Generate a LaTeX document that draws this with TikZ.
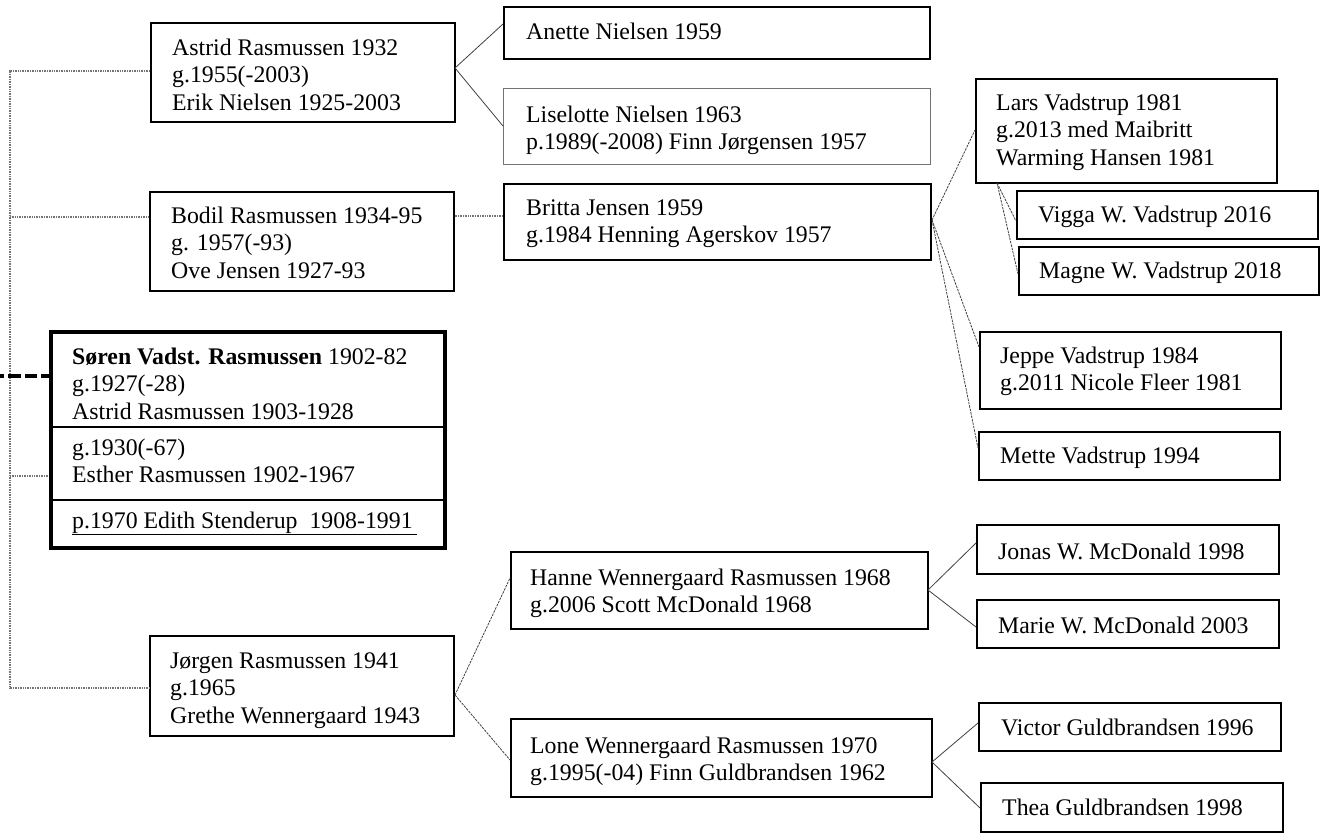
\documentclass[tikz,border=0pt]{standalone}
\usepackage{fontspec}
\setmainfont{Liberation Serif}
\newcommand\famnode[6]{\node[#1, minimum width={#5-#3}, minimum height={#6-#4}] (#2) at (#3,#4) {};}
\begin{document}
\begin{tikzpicture}[x=1pt,y=-1pt,
  every node/.style={font=\fontsize{23.8}{27.5}\selectfont},
  box/.style={draw=black, line width=1.5pt, inner sep=0pt, anchor=north west},
  graybox/.style={box, draw=black!55, line width=1.1pt},
  bigbox/.style={box, line width=3.5pt},
  divider/.style={line width=2.5pt},
  txt/.style={inner sep=0pt, anchor=base west},
  trunk/.style={draw=black!55, line width=1.3pt, dash pattern=on 1pt off 0.7pt},
  link/.style={draw=black!75, line width=0.8pt},
  dlink/.style={link, dash pattern=on 2.5pt off 1pt},
  lead/.style={line width=3.5pt, dash pattern=on 12.5pt off 4pt, dash phase=4.5pt}
]
\useasboundingbox (0,0) rectangle (1322,835);

% ---------- boxes ----------
\famnode{box}{A}{150}{22}{454}{121}
\famnode{box}{B}{149}{191}{453}{290}
\famnode{bigbox}{S}{49}{330}{443}{546}
\famnode{box}{J}{149}{635}{453}{735}
\famnode{box}{An}{503}{6}{929}{58}
\famnode{graybox}{L}{503}{88}{930}{164}
\famnode{box}{Br}{503}{183}{930}{259}
\famnode{box}{La}{975}{78}{1276}{182}
\famnode{box}{Vi}{1016}{190}{1317}{238}
\famnode{box}{Ma}{1018}{246}{1318}{294}
\famnode{box}{Je}{979}{331}{1280}{408}
\famnode{box}{Me}{978}{431}{1279}{479}
\famnode{box}{Ha}{510}{551}{927}{628}
\famnode{box}{Lo}{510}{718}{931}{796}
\famnode{box}{Jo}{976}{524}{1278}{573}
\famnode{box}{Mr}{976}{599}{1278}{647}
\famnode{box}{Vc}{978}{702}{1280}{750}
\famnode{box}{Th}{980}{782}{1282}{831}

% Søren box dividers
\draw[divider] (S.west |- 0,427) -- (S.east |- 0,427);
\draw[divider] (S.west |- 0,500) -- (S.east |- 0,500);

% ---------- texts ----------
\node[txt] (At) at (172,55) {\parbox[t]{400pt}{Astrid Rasmussen 1932\\g.1955(-2003)\\Erik Nielsen 1925-2003}};
\node[txt] (Bt) at (171,223) {\parbox[t]{400pt}{Bodil Rasmussen 1934-95\\g. 1957(-93)\\Ove Jensen 1927-93}};
\node[txt] (St) at (72,364) {\parbox[t]{400pt}{\textbf{Søren Vadst. Rasmussen} 1902-82\\g.1927(-28)\\Astrid Rasmussen 1903-1928}};
\node[txt] (St2) at (72,455) {\parbox[t]{400pt}{g.1930(-67)\\Esther Rasmussen 1902-1967}};
\node[txt] (St3) at (72,528) {\underline{p.1970 Edith Stenderup\ \ 1908-1991\,}};
\node[txt] (Jt) at (170,668) {\parbox[t]{400pt}{Jørgen Rasmussen 1941\\g.1965\\Grethe Wennergaard 1943}};
\node[txt] (Ant) at (526,39) {Anette Nielsen 1959};
\node[txt] (Lt) at (526,122) {\parbox[t]{450pt}{Liselotte Nielsen 1963\\p.1989(-2008) Finn Jørgensen 1957}};
\node[txt] (Brt) at (526,215) {\parbox[t]{450pt}{Britta Jensen 1959\\g.1984 Henning Agerskov 1957}};
\node[txt] (Lat) at (996,110) {\parbox[t]{400pt}{Lars Vadstrup 1981\\g.2013 med Maibritt\\Warming Hansen 1981}};
\node[txt] (Vit) at (1038,222) {Vigga W. Vadstrup 2016};
\node[txt] (Mat) at (1039,278) {Magne W. Vadstrup 2018};
\node[txt] (Jet) at (1000,363) {\parbox[t]{400pt}{Jeppe Vadstrup 1984\\g.2011 Nicole Fleer 1981}};
\node[txt] (Met) at (1000,463) {Mette Vadstrup 1994};
\node[txt] (Hat) at (530,585) {\parbox[t]{450pt}{Hanne Wennergaard Rasmussen 1968\\g.2006 Scott McDonald 1968}};
\node[txt] (Lot) at (530,753) {\parbox[t]{450pt}{Lone Wennergaard Rasmussen 1970\\g.1995(-04) Finn Guldbrandsen 1962}};
\node[txt] (Jot) at (998,559) {Jonas W. McDonald 1998};
\node[txt] (Mrt) at (998,633) {Marie W. McDonald 2003};
\node[txt] (Vct) at (1001,735) {Victor Guldbrandsen 1996};
\node[txt] (Tht) at (1002,815) {Thea Guldbrandsen 1998};

% ---------- trunk on the left ----------
\coordinate (top) at (10,71);
\coordinate (bot) at (10,688);
\coordinate (lead0) at (0,376);
\draw[trunk] (A.west |- top) -- (top) -- (bot) -- (J.west |- bot);
\draw[trunk] (top |- 0,217) -- (B.west |- 0,217);
\draw[trunk] (top |- 0,476) -- (S.west |- 0,476);
\draw[lead] (S.west |- lead0) -- (lead0);

% ---------- children connectors ----------
\coordinate (aJ) at (455,68);
\draw[link] (aJ) -- (An.west |- 0,24);
\draw[link] (aJ) -- (L.west |- 0,126);
\draw[trunk] (B.east |- 0,216) -- (Br.west |- 0,216);
\coordinate (brJ) at (932,220);
\draw[dlink] (brJ) -- (La.west |- 0,130);
\draw[dlink] (brJ) -- (Je.west |- 0,347);
\draw[dlink] (brJ) -- (Me.west |- 0,448);
\coordinate (laJ) at (997,183);
\draw[dlink] (laJ) -- (Vi.west |- 0,221);
\draw[dlink] (laJ) -- (Ma.west |- 0,274);
\coordinate (jJ) at (455,695);
\draw[dlink] (jJ) -- (Ha.west |- 0,578);
\draw[dlink] (jJ) -- (Lo.west |- 0,760);
\coordinate (hJ) at (928,590);
\draw[link] (hJ) -- (Jo.west |- 0,543);
\draw[link] (hJ) -- (Mr.west |- 0,627);
\coordinate (lJ) at (932,762);
\draw[link] (lJ) -- (Vc.west |- 0,723);
\draw[link] (lJ) -- (Th.west |- 0,808);
\end{tikzpicture}
\end{document}
